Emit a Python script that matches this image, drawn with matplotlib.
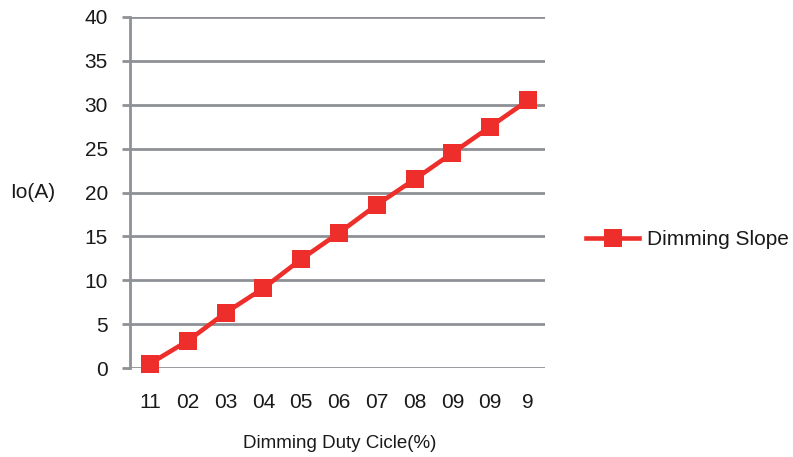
import matplotlib
matplotlib.use("Agg")
import matplotlib.pyplot as plt

categories = ["11", "02", "03", "04", "05", "06", "07", "08", "09", "09", "9"]
values = [0.5, 3.1, 6.3, 9.1, 12.4, 15.4, 18.6, 21.5, 24.5, 27.5, 30.5]
series_name = "Dimming Slope"
y_ticks = [0, 5, 10, 15, 20, 25, 30, 35, 40]

plt.rcParams['font.family'] = ['Liberation Sans', 'DejaVu Sans']

W, H = 793, 457
fig = plt.figure(figsize=(W/100, H/100), dpi=100)
ax = fig.add_axes([130/W, 1-368/H, (545-130)/W, (368-17)/H])

red = "#ee2e2b"
grid = "#8e9196"
fs = 15
x = list(range(len(categories)))
ax.plot(x, values, color=red, lw=3.3, marker="s", markersize=13,
        markeredgewidth=0, label=series_name, clip_on=False, zorder=3)

ax.set_xlim(-0.53, len(categories) - 0.55)
ax.set_ylim(0, 40)
ax.set_yticks(y_ticks)
ax.set_yticklabels([str(v) for v in y_ticks])
ax.set_xticks(x)
ax.set_xticklabels(categories)

for s in ["top", "right", "bottom"]:
    ax.spines[s].set_visible(False)
ax.spines["left"].set_color(grid)
ax.spines["left"].set_linewidth(2.0)
ax.yaxis.grid(True, color=grid, lw=2.0)
ax.set_axisbelow(True)
ax.tick_params(axis="y", length=6, width=2.0, color=grid, pad=10, labelsize=fs, labelcolor="#1a1a1a")
ax.tick_params(axis="x", length=0, pad=18, labelsize=fs, labelcolor="#1a1a1a")

fig.text(33/W, 1-192/H, "Io(A)", ha="center", va="center", fontsize=fs, color="#1a1a1a")
fig.text(340/W, 1-443/H, "Dimming Duty Cicle(%)", ha="center", va="center", fontsize=13.5, color="#1a1a1a")

fig.legend(loc="center left", bbox_to_anchor=(586/W, 1-240/H), frameon=False,
           fontsize=fs, handlelength=2.55, handletextpad=0.38, borderpad=0,
           borderaxespad=0, labelcolor="#1a1a1a")

fig.savefig("out.png", dpi=100)
